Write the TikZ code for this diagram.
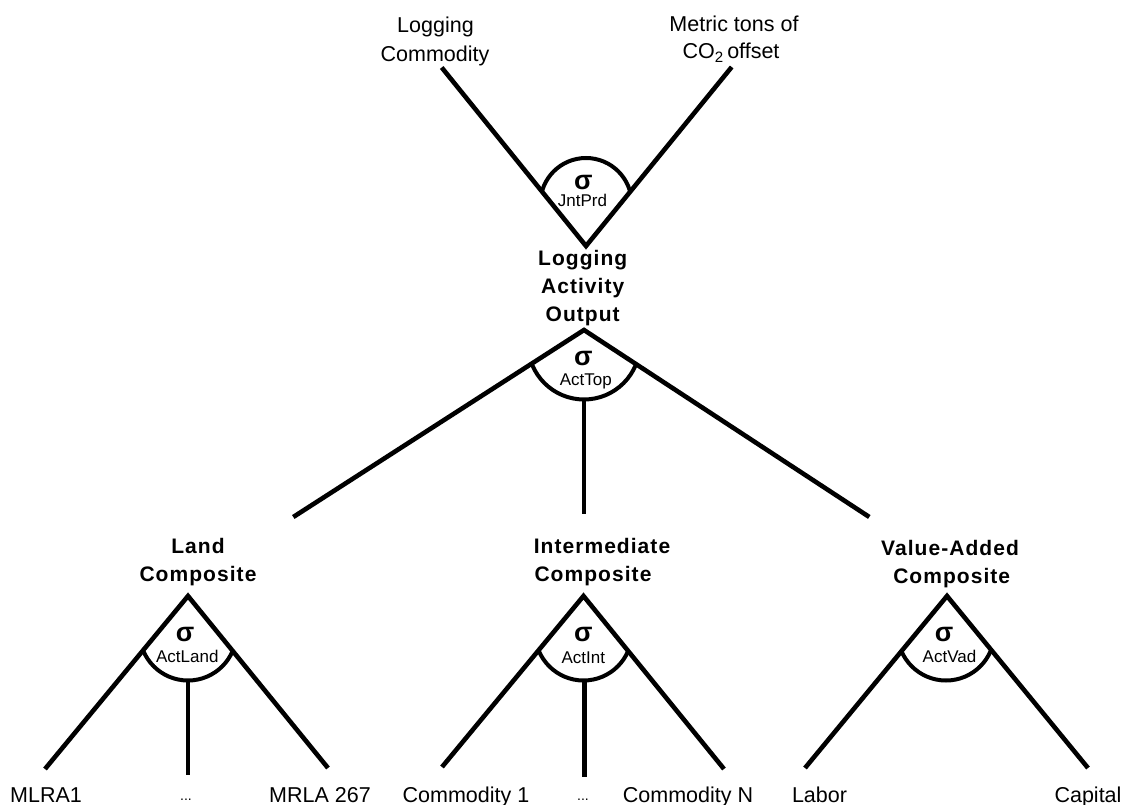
\documentclass[tikz,border=0pt]{standalone}
\usepackage{fontspec}
\setmainfont{Liberation Sans}
\newfontfamily\lblbold{Liberation Sans}[LetterSpace=5]
\usetikzlibrary{calc}
\begin{document}
\begin{tikzpicture}[x=1pt,y=-1pt,
  branch/.style={line width=4.6pt, line join=miter, line cap=butt},
  dome/.style={line width=4pt},
  leaf/.style={font=\fontsize{21.5}{25}\selectfont, inner sep=0pt, anchor=base},
  head/.style={font=\lblbold\bfseries\fontsize{21}{25}\selectfont, inner sep=0pt, anchor=base},
  sig/.style={font=\bfseries\fontsize{27}{30}\selectfont, inner sep=0pt},
  sub/.style={font=\fontsize{17}{20}\selectfont, inner sep=0pt, anchor=base},
  dotlbl/.style={font=\fontsize{14}{16}\selectfont, inner sep=0pt, anchor=base}]
\useasboundingbox (0,0) rectangle (1126,805);

% ---------- coordinates ----------
% JntPrd fork (V)
\coordinate (jp)  at (586,246);
\coordinate (jpL) at (441.7,67.5);
\coordinate (jpR) at (731.7,67);
\coordinate (jpC) at (586,203.7);
% ActTop fork
\coordinate (at)  at (584,330);
\coordinate (atL) at (293.3,517);
\coordinate (atR) at (869.3,517);
\coordinate (atC) at (584,343.5);
\coordinate (atB) at (584,399.5);
\coordinate (atM) at (584,514);
% Land fork
\coordinate (la)  at (188,596);
\coordinate (laL) at (45,769);
\coordinate (laR) at (328,768);
\coordinate (laC) at (188,632);
\coordinate (laB) at (188,680.5);
\coordinate (laM) at (188,775);
% Intermediate fork
\coordinate (in)  at (583.5,596);
\coordinate (inL) at (442,767);
\coordinate (inR) at (724,769);
\coordinate (inC) at (583.5,632);
\coordinate (inB) at (584.5,680.5);
\coordinate (inM) at (584.5,777);
% Value-added fork
\coordinate (va)  at (947,596);
\coordinate (vaL) at (805,768);
\coordinate (vaR) at (1088,768);
\coordinate (vaC) at (946,632);

% ---------- domes (circles clipped to the cones) ----------
\begin{scope}
  \clip (jp) -- (jpL) -- (jpR) -- cycle;
  \draw[dome] (jpC) circle[radius=45.7];
\end{scope}
\begin{scope}
  \clip (at) -- (atL) -- (atR) -- cycle;
  \draw[dome] (atC) circle[radius=56];
\end{scope}
\begin{scope}
  \clip (la) -- (laL) -- (laR) -- cycle;
  \draw[dome] (laC) circle[radius=48.5];
\end{scope}
\begin{scope}
  \clip (in) -- (inL) -- (inR) -- cycle;
  \draw[dome] (inC) circle[radius=48.5];
\end{scope}
\begin{scope}
  \clip (va) -- (vaL) -- (vaR) -- cycle;
  \draw[dome] (vaC) circle[radius=48.5];
\end{scope}

% ---------- branches ----------
\draw[branch] (jpL) -- (jp) -- (jpR);
\draw[branch] (atL) -- (at) -- (atR);
\draw[branch] (atB) -- (atM);
\draw[branch] (laL) -- (la) -- (laR);
\draw[branch] (laB) -- (laM);
\draw[branch] (inL) -- (in) -- (inR);
\draw[branch] (inB) -- (inM);
\draw[branch] (vaL) -- (va) -- (vaR);

% ---------- sigma marks ----------
\node[sig] (s1) at (583.3,182.7) {σ};
\node[sub] (n1) at (582.5,206.7) {JntPrd};
\node[sig] (s2) at (583.3,358.3) {σ};
\node[sub] (n2) at (585.8,385) {ActTop};
\node[sig] (s3) at (185,634) {σ};
\node[sub] (n3) at (187.3,662) {ActLand};
\node[sig] (s4) at (583.3,634) {σ};
\node[sub] (n4) at (583.3,663) {ActInt};
\node[sig] (s5) at (944,634) {σ};
\node[sub] (n5) at (949.5,662) {ActVad};

% ---------- top outputs ----------
\node[leaf] (t1a) at (435.5,33) {Logging};
\node[leaf] (t1b) at (435,61.7) {Commodity};
\node[leaf] (t2a) at (734,31.7) {Metric tons of};
\node[leaf] (t2b) at (731,59) {CO\textsubscript{2}\,offset};

% ---------- headings ----------
\node[head] (h1a) at (582.7,265.5) {Logging};
\node[head] (h1b) at (582.7,293.5) {Activity};
\node[head] (h1c) at (582.7,321.5) {Output};
\node[head] (h2a) at (198,553.3) {Land};
\node[head] (h2b) at (198,581.7) {Composite};
\node[head] (h3a) at (602,553.3) {Intermediate};
\node[head] (h3b) at (593,581.7) {Composite};
\node[head] (h4a) at (950,555) {Value-Added};
\node[head] (h4b) at (951.7,583.3) {Composite};

% ---------- leaves ----------
\node[leaf] (b1) at (46,802) {MLRA1};
\node[dotlbl] (b2) at (186,800) {...};
\node[leaf] (b3) at (320,802) {MRLA 267};
\node[leaf] (b4) at (466,802) {Commodity 1};
\node[dotlbl] (b5) at (583,800) {...};
\node[leaf] (b6) at (688,802) {Commodity N};
\node[leaf] (b7) at (819.5,802) {Labor};
\node[leaf] (b8) at (1088,802) {Capital};
\end{tikzpicture}
\end{document}
